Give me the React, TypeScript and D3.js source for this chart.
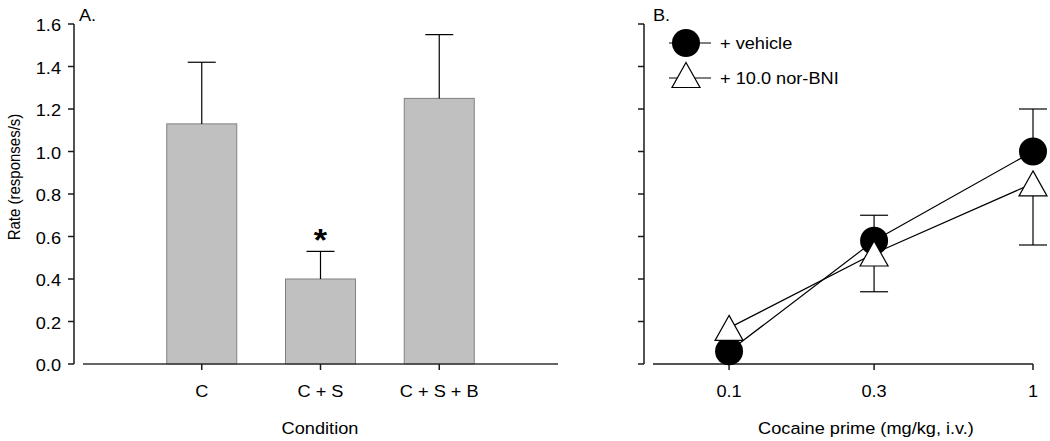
import React from "react";
import * as d3 from "d3";

const categories = ["C", "C + S", "C + S + B"];
const barMeans = [1.13, 0.40, 1.25];
const barSEM = [0.29, 0.13, 0.30];

const doses = [0.1, 0.3, 1];
const vehicle = [0.06, 0.58, 1.0];
const vehicleSEM = [0, 0.12, 0.20];
const norBNI = [0.17, 0.52, 0.85];
const norBNISEM = [0, 0.18, 0.29];

const yTicks = [0, 0.2, 0.4, 0.6, 0.8, 1.0, 1.2, 1.4, 1.6];
const doseTicks = [0.1, 0.3, 1];
const doseTickLabels = ["0.1", "0.3", "1"];

const FONT = "'Liberation Sans', Arial, Helvetica, sans-serif";
const FS = 17;
const SX = 1.07;

function SText({ x, y, children, anchor = "middle", size = FS, weight = "normal" }: any) {
  return (
    <g transform={`translate(${x},${y}) scale(${SX},1)`}>
      <text x={0} y={0} textAnchor={anchor} fontSize={size} fontWeight={weight} fontFamily={FONT} fill="#000">
        {children}
      </text>
    </g>
  );
}

export default function App() {
  const W = 1050, H = 441;
  const y = d3.scaleLinear().domain([0, 1.6]).range([364, 24]);

  // Panel A
  const axA = 74;
  const xA = d3.scaleLinear().domain([-1, 3]).range([83, 558]);
  const barW = 70;

  // Panel B
  const axB = 644;
  const xB = d3.scaleLog().domain([0.0562, 1]).range([653, 1033]);

  const line = d3.line<number>()
    .x((_, i) => xB(doses[i]))
    .y((d) => y(d));

  const triPath = (cx: number, cy: number) =>
    `M${cx},${cy - 12.5}L${cx + 14},${cy + 12.5}L${cx - 14},${cy + 12.5}Z`;

  const axisColor = "#1a1a1a";

  return (
    <svg width={W} height={H} style={{ position: "absolute", left: 0, top: 0, background: "#fff" }}>
      {/* ===== Panel A ===== */}
      <line x1={axA} x2={axA} y1={y(1.6)} y2={y(0)} stroke={axisColor} strokeWidth={1.5} />
      {yTicks.map((t) => (
        <g key={"ya" + t}>
          <line x1={axA - 6} x2={axA} y1={y(t)} y2={y(t)} stroke={axisColor} strokeWidth={1.5} />
          <SText x={61} y={y(t) + 7} anchor="end">{t.toFixed(1)}</SText>
        </g>
      ))}
      <g transform={`translate(20,177) scale(1.1,1)`}>
        <text transform="rotate(-90)" textAnchor="middle" fontSize={15} fontFamily={FONT}>Rate (responses/s)</text>
      </g>
      <SText x={79} y={21} anchor="start">A.</SText>

      {categories.map((c, i) => (
        <rect key={"bar" + i} x={xA(i) - barW / 2} y={y(barMeans[i])} width={barW} height={y(0) - y(barMeans[i])}
          fill="#c0c0c0" stroke="#808080" strokeWidth={1} />
      ))}
      {categories.map((c, i) => {
        const top = y(barMeans[i] + barSEM[i]);
        return (
          <g key={"err" + i} stroke="#000" strokeWidth={1.2}>
            <line x1={xA(i)} x2={xA(i)} y1={y(barMeans[i])} y2={top} />
            <line x1={xA(i) - 14} x2={xA(i) + 14} y1={top} y2={top} />
          </g>
        );
      })}
      <line x1={xA.range()[0]} x2={xA.range()[1]} y1={y(0)} y2={y(0)} stroke="#333" strokeWidth={1.6} />
      {categories.map((c, i) => (
        <g key={"xa" + i}>
          <line x1={xA(i)} x2={xA(i)} y1={y(0)} y2={y(0) + 6} stroke={axisColor} strokeWidth={1.5} />
          <SText x={xA(i)} y={397}>{c}</SText>
        </g>
      ))}
      <SText x={320} y={434}>Condition</SText>
      <SText x={xA(1)} y={y(barMeans[1] + barSEM[1]) - 0.5} size={32} weight="bold">*</SText>

      {/* ===== Panel B ===== */}
      <line x1={axB} x2={axB} y1={y(1.6)} y2={y(0)} stroke={axisColor} strokeWidth={1.5} />
      {yTicks.map((t) => (
        <line key={"yb" + t} x1={axB - 6} x2={axB} y1={y(t)} y2={y(t)} stroke={axisColor} strokeWidth={1.5} />
      ))}
      <SText x={653} y={21} anchor="start">B.</SText>
      <line x1={xB.range()[0]} x2={xB.range()[1]} y1={y(0)} y2={y(0)} stroke={axisColor} strokeWidth={1.5} />
      {doseTicks.map((t, i) => (
        <g key={"xb" + i}>
          <line x1={xB(t)} x2={xB(t)} y1={y(0)} y2={y(0) + 6} stroke={axisColor} strokeWidth={1.5} />
          <SText x={xB(t)} y={397}>{doseTickLabels[i]}</SText>
        </g>
      ))}
      <SText x={866} y={434}>Cocaine prime (mg/kg, i.v.)</SText>

      {/* error bars */}
      {doses.map((d, i) =>
        vehicleSEM[i] > 0 ? (
          <g key={"ve" + i} stroke="#000" strokeWidth={1.2}>
            <line x1={xB(d)} x2={xB(d)} y1={y(vehicle[i])} y2={y(vehicle[i] + vehicleSEM[i])} />
            <line x1={xB(d) - 14} x2={xB(d) + 14} y1={y(vehicle[i] + vehicleSEM[i])} y2={y(vehicle[i] + vehicleSEM[i])} />
          </g>
        ) : null
      )}
      {doses.map((d, i) =>
        norBNISEM[i] > 0 ? (
          <g key={"ne" + i} stroke="#000" strokeWidth={1.2}>
            <line x1={xB(d)} x2={xB(d)} y1={y(norBNI[i])} y2={y(norBNI[i] - norBNISEM[i])} />
            <line x1={xB(d) - 14} x2={xB(d) + 14} y1={y(norBNI[i] - norBNISEM[i])} y2={y(norBNI[i] - norBNISEM[i])} />
          </g>
        ) : null
      )}
      <path d={line(vehicle) || ""} fill="none" stroke="#000" strokeWidth={1.2} />
      <path d={line(norBNI) || ""} fill="none" stroke="#000" strokeWidth={1.2} />
      {doses.map((d, i) => (
        <circle key={"vc" + i} cx={xB(d)} cy={y(vehicle[i])} r={14} fill="#000" />
      ))}
      {doses.map((d, i) => (
        <path key={"nt" + i} d={triPath(xB(d), y(norBNI[i]))} fill="#fff" stroke="#000" strokeWidth={1.2} />
      ))}

      {/* legend */}
      <line x1={669} x2={711} y1={43} y2={43} stroke="#000" strokeWidth={1.2} />
      <circle cx={686} cy={43} r={14} fill="#000" />
      <SText x={720} y={49} anchor="start">+ vehicle</SText>
      <line x1={669} x2={711} y1={78} y2={78} stroke="#000" strokeWidth={1.2} />
      <path d={triPath(686, 75)} fill="#fff" stroke="#000" strokeWidth={1.2} />
      <SText x={720} y={84} anchor="start">+ 10.0 nor-BNI</SText>
    </svg>
  );
}
